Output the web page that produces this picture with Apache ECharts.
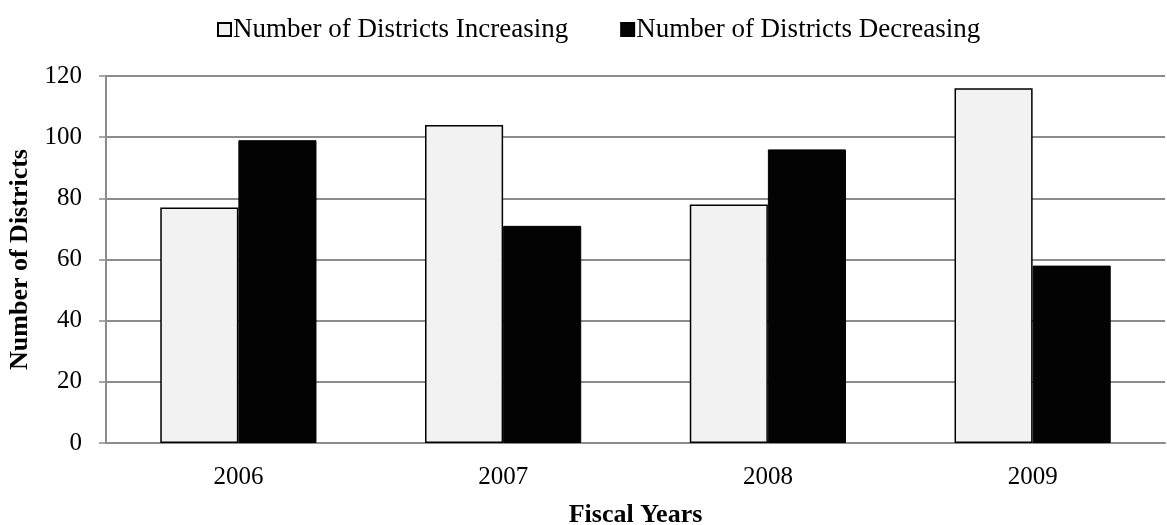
<!DOCTYPE html>
<html>
<head>
<meta charset="utf-8">
<script src="https://cdn.jsdelivr.net/npm/echarts@6/dist/echarts.min.js"></script>
<style>
  html, body { margin: 0; padding: 0; background: #fff; }
  #chart { width: 1167px; height: 525px; }
</style>
</head>
<body>
<div id="chart"></div>
<script>
// 数据
const years = ['2006', '2007', '2008', '2009'];
const increasing = [77, 104, 78, 116];
const decreasing = [99, 71, 96, 58];
const yTicks = [0, 20, 40, 60, 80, 100, 120];

const font = '"Liberation Serif", "Times New Roman", serif';
const gray = '#8c8c8c';

const myChart = echarts.init(document.getElementById('chart'));

const option = {
  animation: false,
  textStyle: { fontFamily: font, color: '#000' },
  legend: {
    top: 11,
    left: 212,
    icon: 'rect',
    itemWidth: 13,
    itemHeight: 13,
    itemGap: 52,
    textStyle: { fontFamily: font, fontSize: 27, color: '#000', padding: [0, 0, 0, -3] },
    data: ['Number of Districts Increasing', 'Number of Districts Decreasing'],
  },
  grid: {
    left: 106,
    right: 2,
    top: 76,
    bottom: 82,
    containLabel: false,
    outerBoundsMode: 'none',
  },
  xAxis: {
    type: 'category',
    data: years,
    name: 'Fiscal Years',
    nameLocation: 'middle',
    nameGap: 59,
    nameTextStyle: { fontFamily: font, fontSize: 26, fontWeight: 'bold', color: '#000' },
    axisLine: { lineStyle: { color: gray, width: 2 } },
    axisTick: { length: 7, lineStyle: { color: gray, width: 1.5 } },
    axisLabel: { margin: 22, fontFamily: font, fontSize: 25, color: '#000' },
  },
  yAxis: {
    type: 'value',
    min: yTicks[0],
    max: yTicks[yTicks.length - 1],
    interval: 20,
    name: 'Number of Districts',
    nameLocation: 'middle',
    nameRotate: 90,
    nameGap: 72,
    nameTextStyle: { fontFamily: font, fontSize: 26, fontWeight: 'bold', color: '#000' },
    axisLine: { show: true, lineStyle: { color: gray, width: 2 } },
    axisTick: { show: true, length: 7, lineStyle: { color: gray, width: 1.5 } },
    axisLabel: { margin: 24, fontFamily: font, fontSize: 25, color: '#000' },
    splitLine: { lineStyle: { color: gray, width: 2 } },
  },
  series: [
    {
      name: 'Number of Districts Increasing',
      type: 'bar',
      data: increasing,
      barGap: '0%',
      barCategoryGap: '41%',
      itemStyle: { color: '#f2f2f2', borderColor: '#000', borderWidth: 1.5 },
    },
    {
      name: 'Number of Districts Decreasing',
      type: 'bar',
      data: decreasing,
      itemStyle: { color: '#030303', borderColor: '#000', borderWidth: 1 },
    },
  ],
};

option && myChart.setOption(option);
</script>
</body>
</html>
